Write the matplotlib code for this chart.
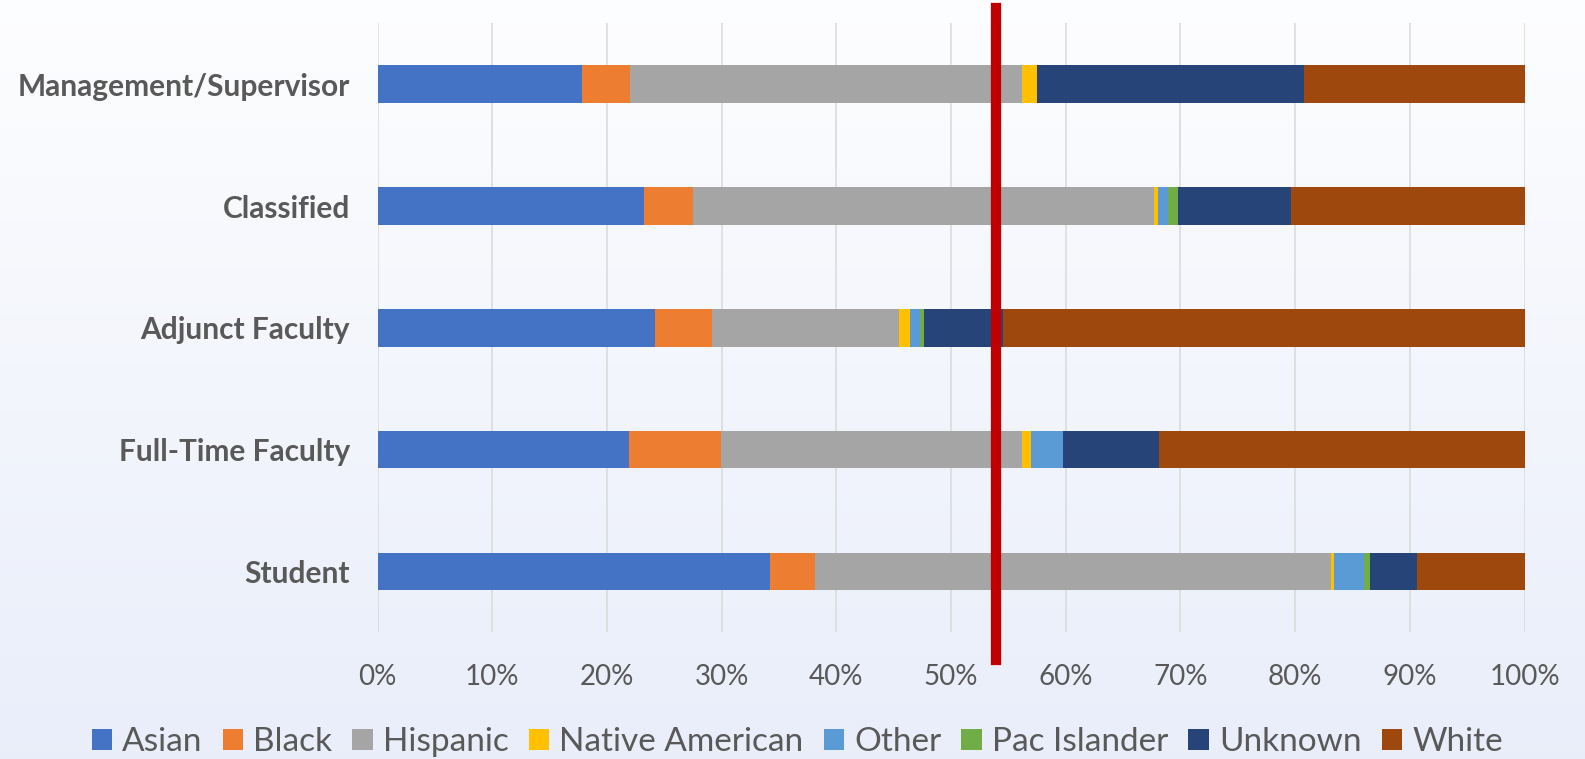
import numpy as np
import matplotlib.pyplot as plt
from matplotlib.patches import Patch
from matplotlib.ticker import FuncFormatter

# Ethnicity share (%) by group
groups = ['Management/Supervisor', 'Classified', 'Adjunct Faculty', 'Full-Time Faculty', 'Student']
ethnicities = ['Asian', 'Black', 'Hispanic', 'Native American', 'Other', 'Pac Islander', 'Unknown', 'White']

asian = [17.8, 23.2, 24.2, 21.9, 34.2]
black = [4.2, 4.3, 5.0, 8.0, 3.9]
hispanic = [34.2, 40.2, 16.3, 26.3, 45.0]
native_american = [1.3, 0.3, 0.9, 0.8, 0.3]
other = [0.0, 0.9, 0.9, 2.8, 2.6]
pac_islander = [0.0, 0.9, 0.3, 0.0, 0.5]
unknown = [23.3, 9.8, 6.9, 8.3, 4.1]
white = [19.2, 20.4, 45.5, 31.9, 9.4]

marker_pct = 53.9
x_ticks = [0, 10, 20, 30, 40, 50, 60, 70, 80, 90, 100]

series = [asian, black, hispanic, native_american, other, pac_islander, unknown, white]
colors = ['#4472C4', '#ED7D31', '#A5A5A5', '#FFC000', '#5B9BD5', '#70AD47', '#264478', '#9E480E']

plt.rcParams['font.family'] = ['Lato', 'DejaVu Sans']
text_col = '#595959'

fig = plt.figure(figsize=(15.85, 7.59), dpi=100)

# soft white-to-blue background
bg = fig.add_axes([0, 0, 1, 1], zorder=-10)
grad = np.linspace(0, 1, 256).reshape(-1, 1)
top = np.array([0.992, 0.994, 0.998])
bottom = np.array([0.914, 0.933, 0.980])
img = top + (bottom - top) * grad[:, :, None]
bg.imshow(img, aspect='auto', extent=[0, 1, 0, 1])
bg.axis('off')

ax = fig.add_axes([0.2382, 0.1669, 0.7237, 0.8024])
ax.patch.set_alpha(0)

y = np.arange(len(groups))[::-1]
left = np.zeros(len(groups))
for name, vals, c in zip(ethnicities, series, colors):
    vals = np.array(vals)
    ax.barh(y, vals, left=left, height=0.31, color=c, linewidth=0, zorder=3, label=name)
    left += vals

ax.set_xlim(0, 100)
ax.set_ylim(-0.5, len(groups) - 0.5)
ax.set_xticks(x_ticks)
ax.xaxis.set_major_formatter(FuncFormatter(lambda v, p: f'{int(v)}%'))
ax.set_yticks(y)
ax.set_yticklabels(groups, fontweight='bold')
ax.grid(axis='x', color='#D9D9D9', linewidth=1.1, zorder=0)
ax.set_axisbelow(True)
for s in ax.spines.values():
    s.set_visible(False)
ax.tick_params(axis='x', length=0, pad=22.5, labelsize=20, labelcolor=text_col)
ax.tick_params(axis='y', length=0, pad=20, labelsize=21.5, labelcolor=text_col)

# reference line across the chart
ax.axvline(marker_pct, ymin=-0.0455, ymax=1.025, color='#C00000', linewidth=7.4,
           clip_on=False, zorder=5)

handles = [Patch(facecolor=c, edgecolor='none') for c in colors]
fig.legend(handles, ethnicities, loc='center', bbox_to_anchor=(0.503, 0.022), ncol=8,
           frameon=False, fontsize=24, labelcolor=text_col, handlelength=0.62,
           handleheight=0.62, handletextpad=0.3, columnspacing=0.6)

fig.savefig('out.png', dpi=100)
